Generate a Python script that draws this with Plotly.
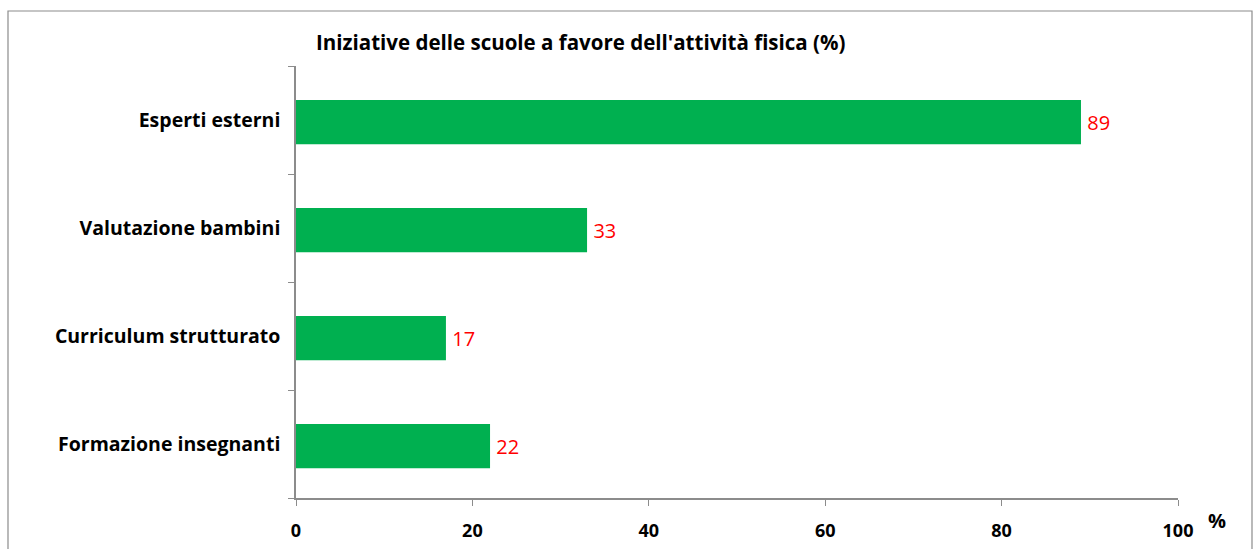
import plotly.graph_objects as go

# Survey results: school initiatives in favour of physical activity
categories = ["Esperti esterni", "Valutazione bambini", "Curriculum strutturato", "Formazione insegnanti"]
values = [89, 33, 17, 22]
x_ticks = [0, 20, 40, 60, 80, 100]

W, H = 1259, 549
L, R, T, B = 296, 81, 66, 51
pw, ph = W - L - R, H - T - B


def px_x(px):
    return (px - L) / pw


def px_y(py):
    return (H - B - py) / ph


FONT = "Open Sans"
AXIS_GREY = "#8c8c8c"

fig = go.Figure(
    go.Bar(
        x=values,
        y=categories,
        orientation="h",
        width=0.41,
        offset=-0.224,
        marker=dict(color="#00B050", line=dict(width=0)),
        texttemplate="\u2009%{x}",
        textposition="outside",
        textfont=dict(family=FONT, size=20, color="#FF0000"),
        cliponaxis=False,
        hoverinfo="skip",
    )
)

fig.update_layout(
    width=W,
    height=H,
    margin=dict(l=L, r=R, t=T, b=B, pad=0),
    paper_bgcolor="white",
    plot_bgcolor="white",
    showlegend=False,
    font=dict(family=FONT, color="black"),
    xaxis=dict(
        range=[0, 100],
        tickmode="array",
        tickvals=x_ticks,
        ticktext=[str(t) for t in x_ticks],
        showgrid=False,
        zeroline=False,
        showline=True,
        linecolor=AXIS_GREY,
        linewidth=1.5,
        ticks="outside",
        ticklen=6,
        tickwidth=1,
        tickcolor=AXIS_GREY,
        tickfont=dict(family=FONT, size=18, color="black", weight="bold"),
        ticklabelstandoff=10,
        automargin=False,
        fixedrange=True,
    ),
    yaxis=dict(
        type="category",
        categoryorder="array",
        categoryarray=categories[::-1],
        showgrid=False,
        zeroline=False,
        showline=True,
        linecolor=AXIS_GREY,
        linewidth=1.5,
        ticks="outside",
        tickson="boundaries",
        ticklen=6,
        tickwidth=1,
        tickcolor=AXIS_GREY,
        tickfont=dict(family=FONT, size=19.5, color="black", weight="bold"),
        ticklabelstandoff=10,
        automargin=False,
        fixedrange=True,
    ),
    shapes=[
        dict(
            type="rect",
            xref="paper",
            yref="paper",
            x0=px_x(8),
            x1=px_x(1252),
            y0=px_y(600),
            y1=px_y(11),
            line=dict(color="#8c8c8c", width=1.2),
            fillcolor="rgba(0,0,0,0)",
            layer="below",
        )
    ],
    annotations=[
        dict(
            text="<b>Iniziative delle scuole a favore dell'attività fisica (%)</b>",
            xref="paper",
            yref="paper",
            x=px_x(314),
            y=px_y(42),
            xanchor="left",
            yanchor="middle",
            showarrow=False,
            font=dict(family=FONT, size=20.5, color="black"),
        ),
        dict(
            text="<b>%</b>",
            xref="paper",
            yref="paper",
            x=px_x(1217),
            y=px_y(520),
            xanchor="center",
            yanchor="middle",
            showarrow=False,
            font=dict(family=FONT, size=20, color="black"),
        ),
    ],
)

fig.write_html("out.html")
